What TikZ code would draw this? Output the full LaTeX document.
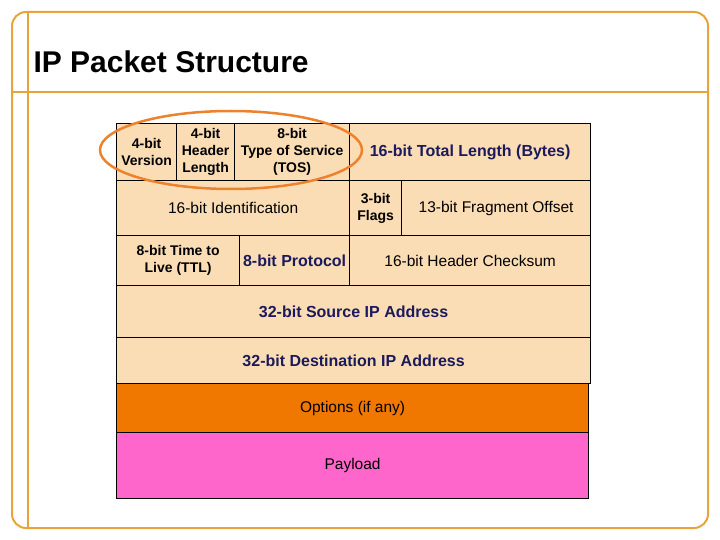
\documentclass[tikz,border=0pt]{standalone}
\usepackage{fontspec}
\setmainfont{Liberation Sans}
\usetikzlibrary{shapes.geometric}
\definecolor{hdrfill}{HTML}{FBDDB5}
\definecolor{optfill}{HTML}{F07800}
\definecolor{payfill}{HTML}{FF66CC}
\definecolor{framecol}{HTML}{E8A33A}
\definecolor{navy}{HTML}{1A1A5C}
\tikzset{
  cell/.style={draw=black, line width=1.2pt, fill=hdrfill, anchor=north west, inner sep=0pt, align=center, font=\fontsize{15.5}{18}\selectfont},
  bold cell/.style={cell, font=\fontsize{14}{17}\selectfont\bfseries},
  big cell/.style={cell, font=\fontsize{16}{19}\selectfont\bfseries, text=navy}
}
\begin{document}
\begin{tikzpicture}[x=1pt, y=-1pt]
  \useasboundingbox (0,0) rectangle (720,540);
  % frame
  \draw[framecol, line width=2pt, rounded corners=14pt] (12,12) rectangle (708,528);
  \draw[framecol, line width=2pt] (12,92) -- (708,92);
  \draw[framecol, line width=2pt] (28,12) -- (28,528);
  \node[anchor=west, font=\fontsize{30}{34}\selectfont\bfseries] (title) at (30,62) {IP Packet Structure};
  % row 1
  \node[bold cell, minimum width=60pt, minimum height=57pt] (version) at (116,123) {4-bit\\Version};
  \node[bold cell, minimum width=58pt, minimum height=57pt] (hlen) at (176,123) {4-bit\\Header\\Length};
  \node[bold cell, minimum width=115pt, minimum height=57pt] (tos) at (234,123) {8-bit\\Type of Service\\(TOS)};
  \node[big cell, minimum width=241pt, minimum height=57pt] (totlen) at (349,123) {16-bit Total Length (Bytes)};
  % row 2
  \node[cell, minimum width=233pt, minimum height=55pt] (ident) at (116,180) {16-bit Identification};
  \node[bold cell, minimum width=52pt, minimum height=55pt] (flags) at (349,180) {3-bit\\Flags};
  \node[cell, minimum width=189pt, minimum height=55pt] (frag) at (401,180) {13-bit Fragment Offset};
  % row 3
  \node[bold cell, minimum width=123pt, minimum height=50pt] (ttl) at (116,235) {8-bit Time to\\Live (TTL)};
  \node[big cell, minimum width=110pt, minimum height=50pt] (proto) at (239,235) {8-bit Protocol};
  \node[cell, minimum width=241pt, minimum height=50pt] (cksum) at (349,235) {16-bit Header Checksum};
  % rows 4-7
  \node[big cell, minimum width=474pt, minimum height=52pt] (src) at (116,285) {32-bit Source IP Address};
  \node[big cell, minimum width=474pt, minimum height=46pt] (dst) at (116,337) {32-bit Destination IP Address};
  \node[cell, fill=optfill, minimum width=472pt, minimum height=49pt] (opts) at (116,383) {Options (if any)};
  \node[cell, fill=payfill, minimum width=472pt, minimum height=66pt] (payload) at (116,432) {Payload};
  % highlight
  \node[ellipse, draw=framecol!80!red, line width=2.5pt, minimum width=262pt, minimum height=78pt] (mark) at (231,150) {};
\end{tikzpicture}
\end{document}
